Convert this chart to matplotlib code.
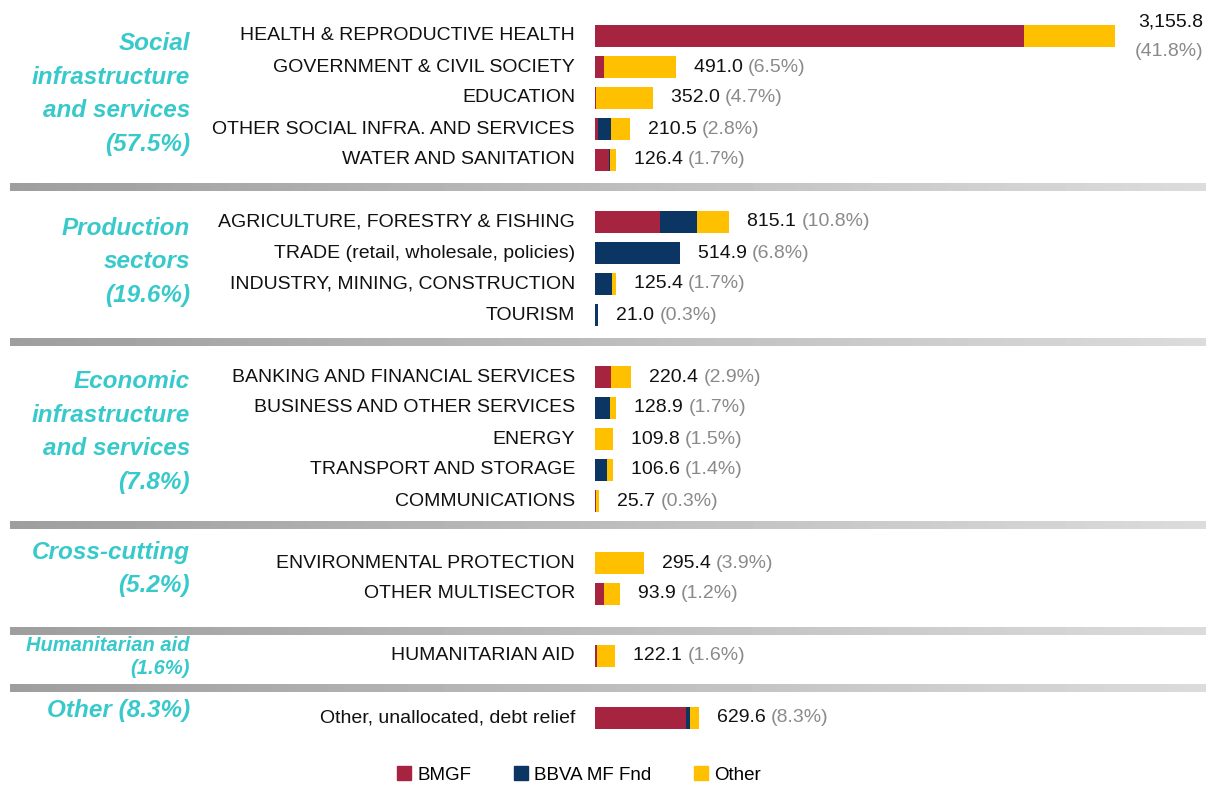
import matplotlib
matplotlib.use("Agg")
import matplotlib.pyplot as plt
import numpy as np
from matplotlib.patches import Patch

# ---------------- data ----------------
categories = [
    "HEALTH & REPRODUCTIVE HEALTH", "GOVERNMENT & CIVIL SOCIETY", "EDUCATION",
    "OTHER SOCIAL INFRA. AND SERVICES", "WATER AND SANITATION",
    "AGRICULTURE, FORESTRY & FISHING", "TRADE (retail, wholesale, policies)",
    "INDUSTRY, MINING, CONSTRUCTION", "TOURISM",
    "BANKING AND FINANCIAL SERVICES", "BUSINESS AND OTHER SERVICES", "ENERGY",
    "TRANSPORT AND STORAGE", "COMMUNICATIONS",
    "ENVIRONMENTAL PROTECTION", "OTHER MULTISECTOR",
    "HUMANITARIAN AID",
    "Other, unallocated, debt relief",
]
group_of = [0, 0, 0, 0, 0, 1, 1, 1, 1, 2, 2, 2, 2, 2, 3, 3, 4, 5]
groups = ["Social\ninfrastructure\nand services\n(57.5%)",
          "Production\nsectors\n(19.6%)",
          "Economic\ninfrastructure\nand services\n(7.8%)",
          "Cross-cutting\n(5.2%)",
          "Humanitarian aid\n(1.6%)",
          "Other (8.3%)"]
bmgf = [2604, 56, 8, 20, 82, 392, 0, 0, 0, 98, 0, 0, 0, 9, 0, 52, 15, 553]
bbva = [0, 0, 0, 75, 12, 230, 514.9, 102, 21, 0, 90, 0, 74, 0, 0, 0, 0, 24]
other = [551.8, 435, 344, 115.5, 32.4, 193.1, 0, 23.4, 0, 122.4, 38.9, 109.8,
         32.6, 16.7, 295.4, 98, 107.1, 52.6]
totals_txt = ["3,155.8", "491.0", "352.0", "210.5", "126.4", "815.1", "514.9",
              "125.4", "21.0", "220.4", "128.9", "109.8", "106.6", "25.7",
              "295.4", "93.9", "122.1", "629.6"]
shares_txt = ["41.8%", "6.5%", "4.7%", "2.8%", "1.7%", "10.8%", "6.8%", "1.7%",
              "0.3%", "2.9%", "1.7%", "1.5%", "1.4%", "0.3%", "3.9%", "1.2%",
              "1.6%", "8.3%"]
series_names = ["BMGF", "BBVA MF Fnd", "Other"]

# ---------------- style ----------------
C_BMGF, C_BBVA, C_OTH = "#A6243F", "#0B3663", "#FFC000"
TEAL = "#38C9CB"
FONT = ["Liberation Sans", "DejaVu Sans"]
plt.rcParams["font.family"] = FONT

W, H = 1206, 785
fig = plt.figure(figsize=(W / 100, H / 100), dpi=100)

# background layout axes in pixel units
bg = fig.add_axes([0, 0, 1, 1])
bg.set_xlim(0, W)
bg.set_ylim(H, 0)
bg.axis("off")

# bar axes
x0 = 595
units_per_px = 6.069
ax = fig.add_axes([x0 / W, 0, (W - x0) / W, 1])
ax.set_xlim(0, (W - x0) * units_per_px)
ax.set_ylim(H, 0)
ax.axis("off")

# row positions (layout)
n = len(categories)
ypos = np.array([36 + 31 * (i + g) for i, g in enumerate(group_of)], dtype=float)

bmgf_a, bbva_a, oth_a = np.array(bmgf), np.array(bbva), np.array(other)
bh = 22
ax.barh(ypos, bmgf_a, height=bh, color=C_BMGF, linewidth=0)
ax.barh(ypos, bbva_a, left=bmgf_a, height=bh, color=C_BBVA, linewidth=0)
ax.barh(ypos, oth_a, left=bmgf_a + bbva_a, height=bh, color=C_OTH, linewidth=0)
ends = bmgf_a + bbva_a + oth_a

fs = 14
for i in range(n):
    y = ypos[i]
    bg.text(575, y, categories[i], ha="right", va="center", fontsize=fs,
            color="#111111")
    if i == 0:
        bg.text(1203, 22, totals_txt[i], ha="right", va="center", fontsize=fs,
                color="#111111")
        bg.text(1203, 52, "(" + shares_txt[i] + ")", ha="right", va="center",
                fontsize=fs, color="#8a8a8a")
        continue
    xt = ends[i] + 18 * units_per_px
    t = ax.text(xt, y, totals_txt[i] + " ", ha="left", va="center",
                fontsize=fs, color="#111111")
    ax.annotate("(" + shares_txt[i] + ")", xycoords=t, xy=(1, 0.5),
                ha="left", va="center", fontsize=fs, color="#8a8a8a")

# separators (gradient bars)
seps = [187, 342, 525, 631, 688]
grad = np.linspace(0.62, 0.86, 256)[None, :]
for s in seps:
    bg.imshow(grad, cmap="gray", vmin=0, vmax=1, aspect="auto",
              extent=(10, 1206, s + 4, s - 4), zorder=1)
bg.set_xlim(0, W)
bg.set_ylim(H, 0)

# group labels
gcent = [94, 262, 432, 569, 657, 711]
for gi, txt in enumerate(groups):
    small = gi == 4
    bg.text(190, gcent[gi], txt, ha="right", va="center",
            fontsize=14.5 if small else 17.5, fontweight="bold", fontstyle="italic",
            color=TEAL, linespacing=1.3 if small else 1.6,
            multialignment="right")

# legend
handles = [Patch(color=c, label=l) for c, l in zip([C_BMGF, C_BBVA, C_OTH], series_names)]
fig.legend(handles=handles, loc="center", bbox_to_anchor=(579 / W, 1 - 775 / H),
           ncol=3, frameon=False, fontsize=13.5, handlelength=0.75,
           handleheight=0.75, handletextpad=0.3, columnspacing=2.3)

fig.savefig("out.png", dpi=100)
